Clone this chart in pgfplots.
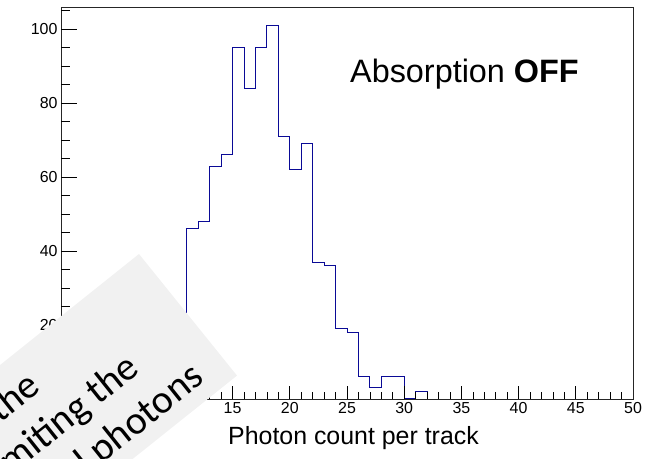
\documentclass[border=0pt]{standalone}
\usepackage{pgfplots}
\pgfplotsset{compat=1.18}
\usepackage{fontspec}
\setmainfont{Liberation Sans}
\newfontfamily\calibri{Carlito}
\definecolor{histblue}{RGB}{10,10,150}
\definecolor{overlaygray}{RGB}{241,241,241}
\begin{document}
\begin{tikzpicture}[x=1bp,y=1bp]
\begin{axis}[
  at={(61bp,60bp)}, anchor=south west,
  width=572bp, height=392bp, scale only axis,
  xmin=0, xmax=50, ymin=0, ymax=106,
  axis on top,
  axis line style={black!85, line width=0.8pt},
  tick align=inside,
  xtick pos=bottom, ytick pos=left,
  xtick={0,5,...,50}, minor xtick={0,1,...,50},
  ytick=\empty,
  major tick length=13bp, minor tick length=6.5bp,
  tick style={black, line width=0.7pt},
  xticklabel style={font=\fontsize{16}{18}\selectfont},
  /pgf/number format/assume math mode=true,
]
\addplot[const plot, draw=histblue, line width=1pt] coordinates {
(5,0)(6,1)(7,3)(8,6)(9,12)(10,20)
(11,46)(12,48)(13,63)(14,66)(15,95)(16,84)(17,95)(18,101)(19,71)(20,62)
(21,69)(22,37)(23,36)(24,19)(25,18)(26,6)(27,3)(28,6)(29,6)(30,0)
(31,2)(32,0)};
\end{axis}
\begin{axis}[
  at={(61bp,60bp)}, anchor=south west,
  width=572bp, height=392bp, scale only axis,
  xmin=0, xmax=50, ymin=0, ymax=106,
  axis line style={draw=none},
  tick align=inside,
  xtick=\empty, ytick pos=left,
  ytick={0,20,...,100}, minor ytick={0,5,...,105},
  major tick length=16bp, minor tick length=9bp,
  tick style={black, line width=0.7pt},
  yticklabel style={font=\fontsize{16}{18}\selectfont},
  /pgf/number format/assume math mode=true,
]
\end{axis}
\node[anchor=base west, inner sep=0] at (350,376) {\fontsize{32.5}{36}\selectfont Absorption \textbf{OFF}};
\node[anchor=base, inner sep=0] at (353.5,14) {\fontsize{25}{30}\selectfont Photon count per track};
\fill[overlaygray] (139,205) -- (237,83.4) -- (-75.4,-166.2) -- (-173.4,-44.6) -- cycle;
\begin{scope}[every node/.style={anchor=base east, inner sep=0, rotate=38.6, font=\calibri\fontsize{40}{48}\selectfont}]
\node at (42.7,69.3) {To understand the};
\node at (141.5,87) {by limiting the};
\node at (206,78) {detected photons};
\end{scope}
\pgfresetboundingbox
\path[use as bounding box] (0,0) rectangle (658,459);
\end{tikzpicture}
\end{document}
